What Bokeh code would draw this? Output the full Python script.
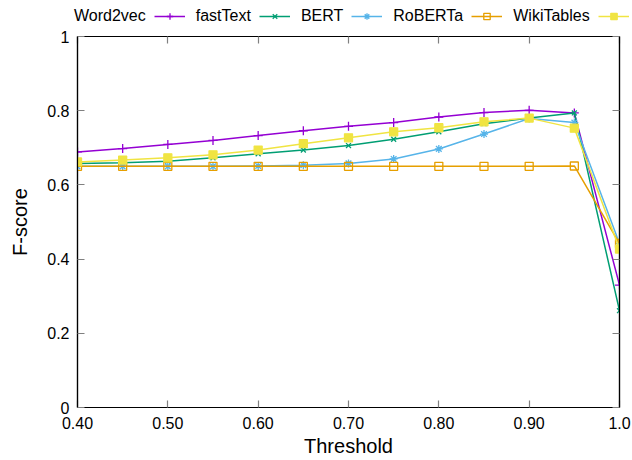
from bokeh.plotting import figure
from bokeh.layouts import column
from bokeh.models import (LinearAxis, FixedTicker, Legend, LegendItem, Range1d)
from bokeh.embed import file_html
from bokeh.resources import INLINE

# ---- data ----
thresholds = [0.40, 0.45, 0.50, 0.55, 0.60, 0.65, 0.70, 0.75, 0.80, 0.85, 0.90, 0.95, 1.00]
word2vec   = [0.689, 0.698, 0.709, 0.720, 0.733, 0.746, 0.758, 0.768, 0.783, 0.795, 0.801, 0.794, 0.330]
fasttext   = [0.658, 0.660, 0.664, 0.673, 0.684, 0.694, 0.706, 0.723, 0.743, 0.765, 0.780, 0.794, 0.261]
bert       = [0.650, 0.650, 0.650, 0.650, 0.651, 0.653, 0.658, 0.670, 0.697, 0.737, 0.779, 0.768, 0.442]
roberta    = [0.650, 0.650, 0.650, 0.650, 0.650, 0.650, 0.650, 0.650, 0.650, 0.650, 0.650, 0.651, 0.442]
wikitables = [0.662, 0.667, 0.673, 0.681, 0.694, 0.711, 0.727, 0.743, 0.754, 0.770, 0.780, 0.753, 0.427]

series_names = ["Word2vec", "fastText", "BERT", "RoBERTa", "WikiTables"]
series_values = [word2vec, fasttext, bert, roberta, wikitables]
series_colors = ["#9400d3", "#009e73", "#56b4e9", "#e69f00", "#f0e442"]
series_markers = ["cross", "x", "asterisk", "square", "square"]
series_filled = [False, False, False, False, True]
series_sizes = [9, 7, 8, 8, 8]

x_ticks = [0.4, 0.5, 0.6, 0.7, 0.8, 0.9, 1.0]
x_tick_labels = ["0.40", "0.50", "0.60", "0.70", "0.80", "0.90", "1.0"]
y_ticks = [0.0, 0.2, 0.4, 0.6, 0.8, 1.0]
y_tick_labels = ["0", "0.2", "0.4", "0.6", "0.8", "1"]

FONT = "Liberation Sans"
TICK_COLOR = "#808080"
NAN = float("nan")

# ---- main chart ----
p = figure(width=632, height=434, output_backend="svg", toolbar_location=None,
           x_range=Range1d(0.4, 1.0), y_range=Range1d(0.0, 1.0),
           min_border_left=77, min_border_right=13, min_border_top=10, min_border_bottom=53,
           x_axis_label="Threshold", y_axis_label="F-score")
p.frame_align = False
p.grid.visible = False
p.outline_line_color = "black"
p.outline_line_width = 1.2
p.background_fill_color = "white"
p.border_fill_color = "white"


def style_axis(ax, ticks, labels, show_labels=True):
    ax.ticker = FixedTicker(ticks=ticks)
    if show_labels:
        ax.major_label_overrides = {t: l for t, l in zip(ticks, labels)}
    else:
        ax.major_label_overrides = {t: "" for t in ticks}
        ax.major_label_standoff = 0
    ax.major_tick_in = 7
    ax.major_tick_out = 0
    ax.major_tick_line_color = TICK_COLOR
    ax.major_tick_line_width = 1.2
    ax.minor_tick_line_color = None
    ax.axis_line_color = "black"
    ax.axis_line_width = 1.2
    ax.major_label_text_font = FONT
    ax.major_label_text_font_size = "16px"
    ax.major_label_text_color = "black"
    ax.axis_label_text_font = FONT
    ax.axis_label_text_font_style = "normal"
    ax.axis_label_text_font_size = "20px"
    ax.axis_label_text_color = "black"


xax = p.xaxis[0]
style_axis(xax, x_ticks, x_tick_labels)
xax.major_label_standoff = 9
xax.axis_label_standoff = 3

yax = p.yaxis[0]
style_axis(yax, y_ticks, y_tick_labels)
yax.major_label_standoff = 8
yax.axis_label_standoff = 13

top_ax = LinearAxis()
style_axis(top_ax, x_ticks, x_tick_labels, show_labels=False)
p.add_layout(top_ax, "above")
right_ax = LinearAxis()
style_axis(right_ax, y_ticks, y_tick_labels, show_labels=False)
p.add_layout(right_ax, "right")

for name, vals, col, mk, filled, sz in zip(series_names, series_values, series_colors,
                                            series_markers, series_filled, series_sizes):
    p.line(thresholds, vals, line_color=col, line_width=1.5)
    p.scatter(thresholds, vals, marker=mk, size=sz, line_color=col, line_width=1.3,
              fill_color=col if filled else None)

# ---- key strip (gnuplot style: label first, then sample) ----
k = figure(width=632, height=26, output_backend="svg", toolbar_location=None,
           x_range=Range1d(0, 1), y_range=Range1d(0, 1),
           x_axis_type=None, y_axis_type=None,
           min_border_left=0, min_border_right=0, min_border_top=0, min_border_bottom=0)
k.frame_align = False
k.grid.visible = False
k.outline_line_color = None
k.background_fill_color = "white"
k.border_fill_color = "white"

samples = []
for col, mk, filled, sz in zip(series_colors, series_markers, series_filled, series_sizes):
    ln = k.line([NAN], [NAN], line_color=col, line_width=1.5)
    sc = k.scatter([NAN], [NAN], marker=mk, size=sz, line_color=col, line_width=1.3,
                   fill_color=col if filled else None)
    samples.append([ln, sc])
blank = k.line([NAN], [NAN], line_alpha=0)

items = [LegendItem(label=series_names[0], renderers=[blank])]
for i in range(1, len(series_names)):
    items.append(LegendItem(label=series_names[i], renderers=samples[i - 1]))
items.append(LegendItem(label=" ", renderers=samples[-1]))

legend = Legend(items=items, orientation="horizontal", location=(32, 1),
                glyph_width=31, glyph_height=16, label_height=16,
                label_standoff=11, spacing=8, padding=0, margin=0,
                label_text_font=FONT, label_text_font_size="16px",
                label_text_color="black",
                border_line_color=None, background_fill_alpha=0)
k.add_layout(legend, "center")

layout = column(k, p, spacing=0)
open("out.html", "w").write(file_html(layout, INLINE))
